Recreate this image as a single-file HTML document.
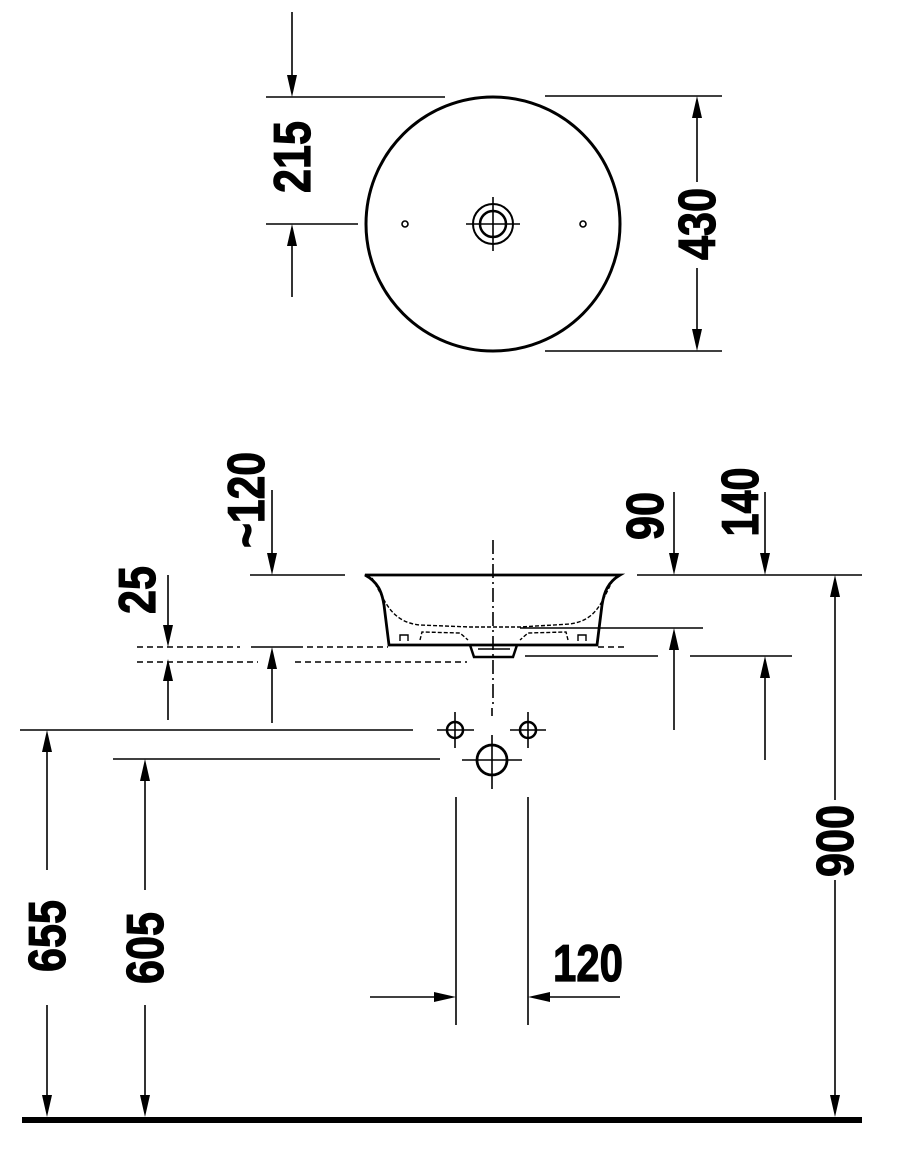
<!DOCTYPE html>
<html><head><meta charset="utf-8"><style>html,body{margin:0;padding:0;background:#fff}svg{display:block}</style></head>
<body>
<svg width="918" height="1174" viewBox="0 0 918 1174" xmlns="http://www.w3.org/2000/svg">
<defs>
<g id="ad"><path d="M-5,-22 L5,-22 L0,0 Z" fill="#000"/></g>
</defs>
<g stroke="#000" stroke-width="1.6" fill="none">
<circle cx="493" cy="224" r="127" stroke-width="3"/>
<circle cx="493" cy="224" r="20" stroke-width="2"/>
<circle cx="493" cy="224" r="13" stroke-width="2.5"/>
<line x1="466" y1="224" x2="520" y2="224"/><line x1="493" y1="197" x2="493" y2="251"/>
<circle cx="405" cy="224" r="3"/><circle cx="583" cy="224" r="3"/>
<line x1="292" y1="12" x2="292" y2="80"/>
<line x1="266" y1="97" x2="445" y2="97"/>
<line x1="266" y1="224" x2="358" y2="224"/>
<line x1="292" y1="245" x2="292" y2="297"/>
<line x1="545" y1="96" x2="722" y2="96"/>
<line x1="545" y1="351" x2="722" y2="351"/>
<line x1="697" y1="110" x2="697" y2="182"/>
<line x1="697" y1="268" x2="697" y2="335"/>
<line x1="493" y1="540" x2="493" y2="705" stroke-dasharray="14,4,2,4"/>
<line x1="250" y1="575" x2="345" y2="575"/>
<line x1="637" y1="575" x2="862" y2="575"/>
<path d="M365,575 L620,575 C608,582 604,592 602,605 L597,645 L389,645 L384,605 C382,592 378,582 365,575 Z" stroke-width="2.8"/>
<path d="M372,578 C385,600 390,622 420,625 L470,627 L520,627 L570,624 C598,620 602,600 614,578" stroke-dasharray="4,2" stroke-width="1.4"/>
<path d="M420,640 L422,632 L460,633 L468,640 M568,640 L566,632 L528,633 L520,640" stroke-dasharray="4,2" stroke-width="1.4"/>
<path d="M400,641 v-6 h8 v6 M578,641 v-6 h8 v6" stroke-width="1.4"/>
<path d="M470,645 L474,657 L513,657 L517,645" stroke-width="2.5"/>
<line x1="478" y1="649" x2="510" y2="649"/>
<line x1="137" y1="647" x2="240" y2="647" stroke-dasharray="6,4"/>
<line x1="251" y1="647" x2="297" y2="647"/>
<line x1="297" y1="647" x2="388" y2="647" stroke-dasharray="6,4"/>
<line x1="598" y1="647" x2="628" y2="647" stroke-dasharray="6,4"/>
<line x1="137" y1="662" x2="258" y2="662" stroke-dasharray="6,4"/>
<line x1="295" y1="662" x2="467" y2="662" stroke-dasharray="6,4"/>
<line x1="520" y1="628" x2="703" y2="628"/>
<line x1="525" y1="656" x2="658" y2="656"/>
<line x1="690" y1="656" x2="792" y2="656"/>
<line x1="272" y1="490" x2="272" y2="560"/>
<line x1="272" y1="665" x2="272" y2="723"/>
<line x1="168" y1="575" x2="168" y2="630"/>
<line x1="168" y1="680" x2="168" y2="720"/>
<line x1="674" y1="492" x2="674" y2="560"/>
<line x1="674" y1="645" x2="674" y2="730"/>
<line x1="765" y1="492" x2="765" y2="560"/>
<line x1="765" y1="675" x2="765" y2="760"/>
<line x1="20" y1="730" x2="413" y2="730"/>
<line x1="113" y1="759" x2="440" y2="759"/>
<circle cx="455" cy="730" r="8" stroke-width="2.5"/><line x1="437" y1="730" x2="474" y2="730"/><line x1="455" y1="712" x2="455" y2="748"/>
<circle cx="528" cy="730" r="8" stroke-width="2.5"/><line x1="510" y1="730" x2="546" y2="730"/><line x1="528" y1="712" x2="528" y2="748"/>
<circle cx="492" cy="760" r="15" stroke-width="2.8"/><line x1="462" y1="760" x2="522" y2="760"/><line x1="492" y1="735" x2="492" y2="789"/>
<line x1="492" y1="708" x2="492" y2="716"/>
<line x1="456" y1="797" x2="456" y2="1025"/>
<line x1="528" y1="797" x2="528" y2="1025"/>
<line x1="370" y1="997" x2="440" y2="997"/>
<line x1="545" y1="997" x2="620" y2="997"/>
<line x1="47" y1="745" x2="47" y2="870"/>
<line x1="47" y1="1005" x2="47" y2="1105"/>
<line x1="145" y1="775" x2="145" y2="890"/>
<line x1="145" y1="1005" x2="145" y2="1105"/>
<line x1="835" y1="590" x2="835" y2="800"/>
<line x1="835" y1="880" x2="835" y2="1105"/>
</g>
<rect x="22" y="1117" width="840" height="6" fill="#000"/>
<g fill="#000">
<use href="#ad" transform="translate(292,97)"/>
<use href="#ad" transform="translate(292,224) rotate(180)"/>
<use href="#ad" transform="translate(697,96) rotate(180)"/>
<use href="#ad" transform="translate(697,351)"/>
<use href="#ad" transform="translate(272,575)"/>
<use href="#ad" transform="translate(272,647) rotate(180)"/>
<use href="#ad" transform="translate(168,647)"/>
<use href="#ad" transform="translate(168,659) rotate(180)"/>
<use href="#ad" transform="translate(674,575)"/>
<use href="#ad" transform="translate(674,628) rotate(180)"/>
<use href="#ad" transform="translate(765,575)"/>
<use href="#ad" transform="translate(765,656) rotate(180)"/>
<use href="#ad" transform="translate(47,730) rotate(180)"/>
<use href="#ad" transform="translate(47,1117)"/>
<use href="#ad" transform="translate(145,759) rotate(180)"/>
<use href="#ad" transform="translate(145,1117)"/>
<use href="#ad" transform="translate(835,575) rotate(180)"/>
<use href="#ad" transform="translate(835,1117)"/>
<use href="#ad" transform="translate(456,997) rotate(-90)"/>
<use href="#ad" transform="translate(528,997) rotate(90)"/>
</g>
<g font-family="'Liberation Sans Narrow','Liberation Sans',sans-serif" font-weight="bold" font-size="52" fill="#000" stroke="#000" stroke-width="1.2" text-anchor="middle">
<text transform="translate(310,157) rotate(-90)" textLength="72" lengthAdjust="spacingAndGlyphs">215</text>
<text transform="translate(715,224) rotate(-90)" textLength="72" lengthAdjust="spacingAndGlyphs">430</text>
<text transform="translate(264,500) rotate(-90)" textLength="96" lengthAdjust="spacingAndGlyphs">~120</text>
<text transform="translate(155,590) rotate(-90)" textLength="48" lengthAdjust="spacingAndGlyphs">25</text>
<text transform="translate(663,516) rotate(-90)" textLength="48" lengthAdjust="spacingAndGlyphs">90</text>
<text transform="translate(758,502) rotate(-90)" textLength="69" lengthAdjust="spacingAndGlyphs">140</text>
<text transform="translate(65,936) rotate(-90)" textLength="72" lengthAdjust="spacingAndGlyphs">655</text>
<text transform="translate(163,948) rotate(-90)" textLength="72" lengthAdjust="spacingAndGlyphs">605</text>
<text transform="translate(853,841) rotate(-90)" textLength="72" lengthAdjust="spacingAndGlyphs">900</text>
<text x="588" y="981" textLength="70" lengthAdjust="spacingAndGlyphs">120</text>
</g>
</svg>
</body></html>
